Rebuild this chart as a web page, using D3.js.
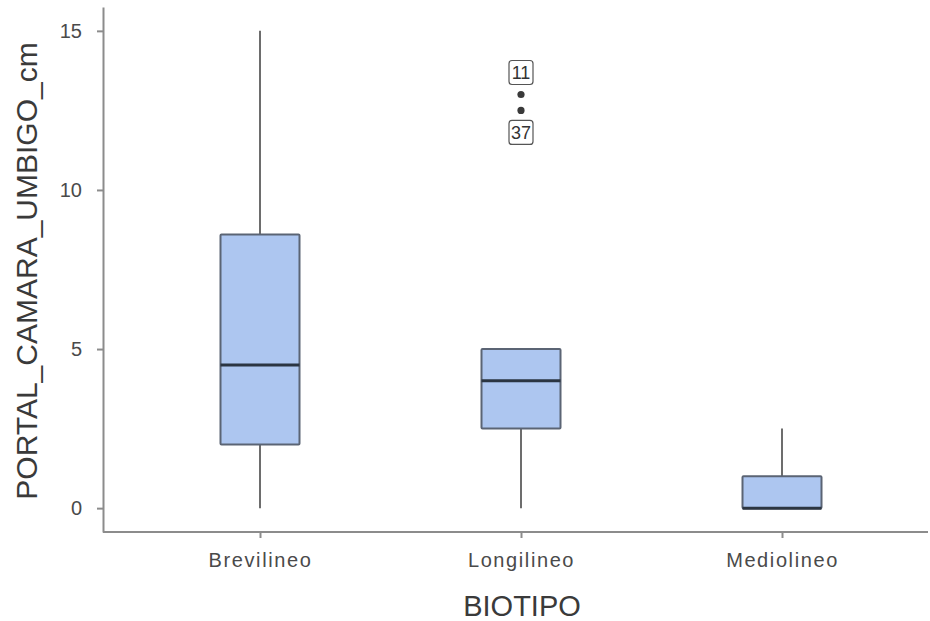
<!DOCTYPE html>
<html>
<head>
<meta charset="utf-8">
<script src="https://cdn.jsdelivr.net/npm/d3@7"></script>
<style>
  html, body { margin: 0; padding: 0; background: #fff; }
  svg { display: block; font-family: "Liberation Sans", Arial, sans-serif; }
</style>
</head>
<body>
<svg id="chart" width="930" height="621"></svg>
<script>
// Box-plot summaries per body type (BIOTIPO)
const categories = ["Brevilineo", "Longilineo", "Mediolineo"];
const whiskerLow  = [0, 0, 0];
const q1          = [2, 2.5, 0];
const median      = [4.5, 4, 0];
const q3          = [8.6, 5, 1];
const whiskerHigh = [15, 5, 2.5];

// Outlying cases with their case numbers
const outlierCategory = ["Longilineo", "Longilineo"];
const outlierValue    = [13, 12.5];
const outlierLabel    = ["11", "37"];
const outlierLabelSide = [-1, 1]; // -1 = above the point, 1 = below

const yTicks = [0, 5, 10, 15];
const xTitle = "BIOTIPO";
const yTitle = "PORTAL_CAMARA_UMBIGO_cm";

const svg = d3.select("#chart");

const x = d3.scalePoint().domain(categories).range([260, 782]);
const y = d3.scaleLinear().domain([-0.75, 15.75]).range([532, 7]);

const axisColor = "#8c8c8c";
const labelColor = "#4a4a4a";
const boxWidth = 79;

// Axes
const xAxisG = svg.append("g")
  .attr("transform", "translate(0,532)")
  .call(d3.axisBottom(x).tickSize(6).tickSizeOuter(0).tickPadding(15));
xAxisG.select(".domain").attr("d", "M103,0H928").attr("stroke", axisColor).attr("stroke-width", 2);

const yAxisG = svg.append("g")
  .attr("transform", "translate(103,0)")
  .call(d3.axisLeft(y).tickValues(yTicks).tickSize(6).tickSizeOuter(0).tickPadding(15));
yAxisG.select(".domain").attr("stroke", axisColor).attr("stroke-width", 2);

[xAxisG, yAxisG].forEach(g => {
  g.selectAll(".tick line").attr("stroke", axisColor).attr("stroke-width", 2);
  g.selectAll(".tick text")
    .attr("fill", labelColor)
    .attr("font-size", 20)
    .attr("font-family", "Liberation Sans, Arial, sans-serif");
});
xAxisG.selectAll(".tick text").attr("letter-spacing", 1.6);

// Axis titles
svg.append("text")
  .attr("x", 522).attr("y", 616)
  .attr("text-anchor", "middle")
  .attr("font-size", 29)
  .attr("fill", "#3a3a3a")
  .text(xTitle);

svg.append("text")
  .attr("transform", "translate(37,271) rotate(-90)")
  .attr("text-anchor", "middle")
  .attr("font-size", 30)
  .attr("fill", "#3a3a3a")
  .text(yTitle);

// Boxes
const boxes = svg.append("g").selectAll("g")
  .data(categories.map((c, i) => ({
    c, lo: whiskerLow[i], q1: q1[i], med: median[i], q3: q3[i], hi: whiskerHigh[i]
  })))
  .join("g");

boxes.append("line")
  .attr("x1", d => x(d.c)).attr("x2", d => x(d.c))
  .attr("y1", d => y(d.hi)).attr("y2", d => y(d.q3))
  .attr("stroke", "#3c3c3c").attr("stroke-width", 1.5);

boxes.append("line")
  .attr("x1", d => x(d.c)).attr("x2", d => x(d.c))
  .attr("y1", d => y(d.q1)).attr("y2", d => y(d.lo))
  .attr("stroke", "#3c3c3c").attr("stroke-width", 1.5);

boxes.append("rect")
  .attr("x", d => x(d.c) - boxWidth / 2)
  .attr("width", boxWidth)
  .attr("y", d => y(d.q3))
  .attr("height", d => y(d.q1) - y(d.q3))
  .attr("fill", "#adc6f0")
  .attr("stroke", "#5b6474")
  .attr("stroke-width", 2)
  .attr("rx", 1);

boxes.append("line")
  .attr("x1", d => x(d.c) - boxWidth / 2).attr("x2", d => x(d.c) + boxWidth / 2)
  .attr("y1", d => y(d.med)).attr("y2", d => y(d.med))
  .attr("stroke", "#2b3542").attr("stroke-width", 3);

// Outliers with case labels
const outliers = svg.append("g").selectAll("g")
  .data(outlierValue.map((v, i) => ({
    c: outlierCategory[i], v, label: outlierLabel[i], side: outlierLabelSide[i]
  })))
  .join("g");

outliers.append("circle")
  .attr("cx", d => x(d.c)).attr("cy", d => y(d.v))
  .attr("r", 3.6)
  .attr("fill", "#3a3a3a");

outliers.append("rect")
  .attr("x", d => x(d.c) - 12)
  .attr("y", d => y(d.v) + (d.side < 0 ? -34 : 10))
  .attr("width", 24).attr("height", 24)
  .attr("rx", 3)
  .attr("fill", "#fff")
  .attr("stroke", "#555")
  .attr("stroke-width", 1.2);

outliers.append("text")
  .attr("x", d => x(d.c))
  .attr("y", d => y(d.v) + (d.side < 0 ? -15.5 : 28.5))
  .attr("text-anchor", "middle")
  .attr("font-size", 18)
  .attr("fill", "#333")
  .text(d => d.label);
</script>
</body>
</html>
